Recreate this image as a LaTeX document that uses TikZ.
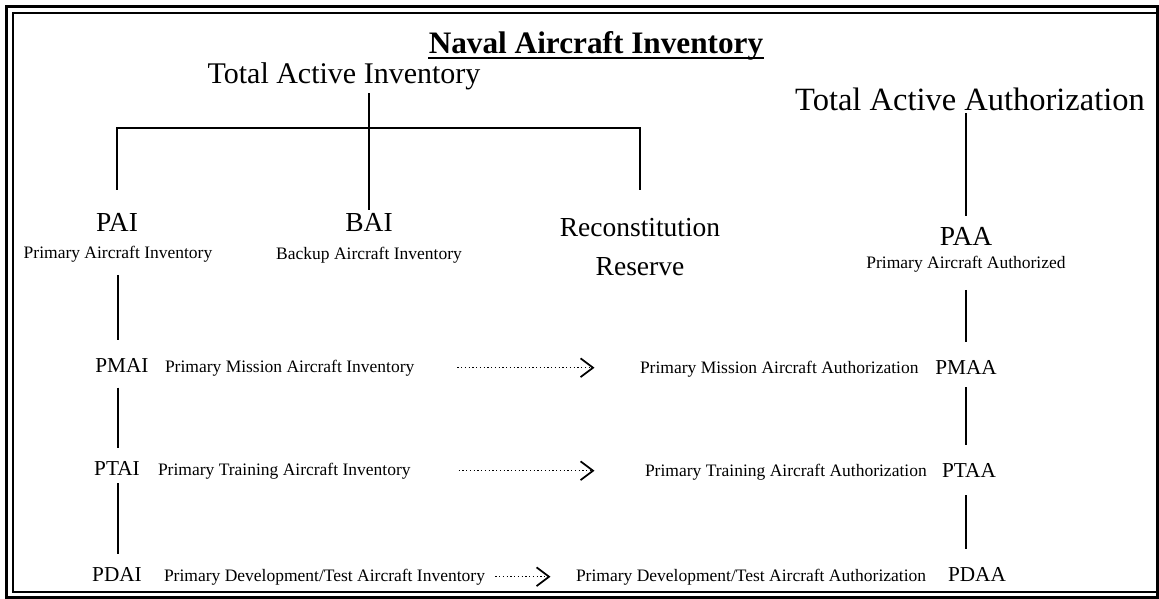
\documentclass[tikz,border=0pt]{standalone}
\usepackage{fontspec}
\setmainfont{Liberation Serif}
\usetikzlibrary{positioning,arrows.meta}

\begin{document}
\begin{tikzpicture}[x=0.4pt,y=-0.4pt]
\tikzstyle{ttl}=[anchor=base,inner sep=0pt,font=\fontsize{12.5}{15}\selectfont\bfseries];
\tikzstyle{top}=[anchor=base,inner sep=1pt,font=\fontsize{12}{14}\selectfont];
\tikzstyle{abbr}=[anchor=base,inner sep=1pt,font=\fontsize{11}{13}\selectfont];
\tikzstyle{full}=[anchor=base,inner sep=1pt,font=\fontsize{7}{8}\selectfont];
\tikzstyle{lvl}=[anchor=base,inner sep=1pt,font=\fontsize{8.5}{10}\selectfont];
\tikzstyle{desc}=[anchor=base west,inner sep=1pt,font=\fontsize{7}{8}\selectfont];
\tikzstyle{link}=[line width=0.6pt];
\tikzstyle{flow}=[densely dotted,line width=0.5pt,-{Straight Barb[length=5pt,width=7.5pt,line width=0.7pt]}];

\useasboundingbox (0,0) rectangle (1159,599);

% double frame
\draw[line width=1.2pt] (6,7) rectangle (1157,597);
\draw[line width=0.8pt] (1157,13) -- (13,13) -- (13,592) -- (1157,592);

\node[ttl] (title) at (596,54) {Naval Aircraft Inventory};
\draw[line width=1pt] ([yshift=-1.6pt]title.base west) -- ([yshift=-1.6pt]title.base east);

\node[top] (tai) at (344,84) {Total Active Inventory};
\node[top,font=\fontsize{13}{15}\selectfont] (taa) at (970,110) {Total Active Authorization};

% inventory side
\node[abbr] (pai) at (117,231) {PAI};
\node[full] (paifull) at (118,258) {Primary Aircraft Inventory};
\node[abbr] (bai) at (369,231) {BAI};
\node[full] (baifull) at (369,259) {Backup Aircraft Inventory};
\node[abbr,anchor=center,align=center,font=\fontsize{11}{15.6}\selectfont] (rec) at (640,247) {Reconstitution\\Reserve};

\node[lvl] (pmai) at (122,372) {PMAI};
\node[desc] (pmaitxt) at (162,372) {Primary Mission Aircraft Inventory};
\node[lvl] (ptai) at (117,475) {PTAI};
\node[desc] (ptaitxt) at (155,475) {Primary Training Aircraft Inventory};
\node[lvl] (pdai) at (117,581) {PDAI};
\node[desc] (pdaitxt) at (161,581) {Primary Development/Test Aircraft Inventory};

% authorization side
\node[abbr] (paa) at (966,245) {PAA};
\node[full] (paafull) at (966,268) {Primary Aircraft Authorized};
\node[lvl] (pmaa) at (966,374) {PMAA};
\node[desc] (pmaatxt) at (637,373) {Primary Mission Aircraft Authorization};
\node[lvl] (ptaa) at (969,477) {PTAA};
\node[desc] (ptaatxt) at (642,476) {Primary Training Aircraft Authorization};
\node[lvl] (pdaa) at (977,581) {PDAA};
\node[desc] (pdaatxt) at (573,581) {Primary Development/Test Aircraft Authorization};

\coordinate (split) at (370,128);
\draw[link] (bai.north |- tai.south) -- (bai.north);
\draw[link,shorten <=8pt,shorten >=10pt] (pai.north) |- (split) -| (rec.north);

\draw[link,shorten <=4pt,shorten >=6pt] (paifull.south) -- (paifull.south |- pmai.north);
\draw[link,shorten <=5pt,shorten >=4pt] (paifull.south |- pmai.south) -- (paifull.south |- ptai.north);
\draw[link,shorten <=2pt,shorten >=4pt] (paifull.south |- ptai.south) -- (paifull.south |- pdai.north);

\draw[link,shorten >=3pt] (paa.north |- taa.south) -- (paa.north);
\draw[link,shorten <=6pt,shorten >=6pt] (paafull.south) -- (paafull.south |- pmaa.north);
\draw[link,shorten <=4pt,shorten >=6pt] (paafull.south |- pmaa.south) -- (paafull.south |- ptaa.north);
\draw[link,shorten <=6pt,shorten >=6pt] (paafull.south |- ptaa.south) -- (paafull.south |- pdaa.north);

\draw[flow,shorten <=16pt,shorten >=17pt] (pmaitxt.east) -- (pmaitxt.east -| pmaatxt.west);
\draw[flow,shorten <=18pt,shorten >=19pt] (ptaitxt.east) -- (ptaitxt.east -| ptaatxt.west);
\draw[flow,shorten <=3pt,shorten >=9pt] (pdaitxt.east) -- (pdaitxt.east -| pdaatxt.west);

\end{tikzpicture}
\end{document}
